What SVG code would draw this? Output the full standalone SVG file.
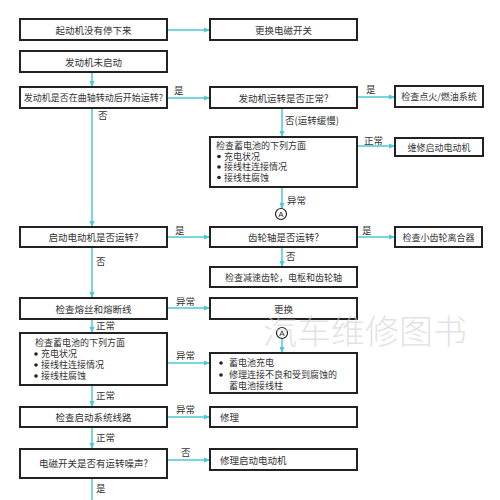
<svg xmlns="http://www.w3.org/2000/svg" width="500" height="500" viewBox="0 0 500 500">
<defs>
<marker id="ah" markerWidth="6" markerHeight="6" refX="5" refY="3" orient="auto" markerUnits="userSpaceOnUse">
<path d="M0,0.5 L6,3 L0,5.5 z" fill="#4cc9d4"/>
</marker>
<style>
.b{fill:#fff;stroke:#222;stroke-width:2}
.t{font-family:"Noto Sans CJK SC","Noto Sans CJK JP",sans-serif;font-size:9.5px;fill:#333}
.s{font-size:9px}
.c{text-anchor:middle}
.l{font-family:"Noto Sans CJK SC","Noto Sans CJK JP",sans-serif;font-size:9.5px;fill:#333}
.e{fill:none;stroke:#4cc9d4;stroke-width:1.5;marker-end:url(#ah)}
.n{fill:none;stroke:#4cc9d4;stroke-width:1.5}
.a{fill:#fff;stroke:#222;stroke-width:1.2}
.at{font-family:"Liberation Sans",sans-serif;font-size:8px;fill:#222;text-anchor:middle}
.d{fill:#222}
</style>
</defs>
<rect width="500" height="500" fill="#fff"/>
<g id="connectors">
<path class="e" d="M167,30 H209"/>
<path class="e" d="M92,72 V86"/>
<path class="e" d="M167,98 H209"/>
<path class="e" d="M92,108 V226"/>
<path class="e" d="M357,97 H394"/>
<path class="e" d="M282,108 V136"/>
<path class="e" d="M357,146 H394"/>
<path class="e" d="M282,187 V208"/>
<path class="e" d="M167,237 H209"/>
<path class="e" d="M357,237 H394"/>
<path class="e" d="M282,247 V266"/>
<path class="e" d="M92,247 V297"/>
<path class="e" d="M167,308 H209"/>
<path class="e" d="M92,319 V332"/>
<path class="e" d="M282,338 V352"/>
<path class="e" d="M167,363 H209"/>
<path class="e" d="M92,385 V406"/>
<path class="e" d="M167,417 H209"/>
<path class="e" d="M92,427 V448"/>
<path class="e" d="M167,460 H209"/>
<path class="n" d="M92,478 V500"/>
</g>
<g id="labels">
<text class="l" x="174" y="94">是</text>
<text class="l" x="98" y="119">否</text>
<text class="l" x="366" y="93">是</text>
<text class="l" x="285" y="124">否(运转缓慢)</text>
<text class="l" x="364" y="144">正常</text>
<text class="l" x="287" y="204">异常</text>
<text class="l" x="175" y="234">是</text>
<text class="l" x="362" y="234">是</text>
<text class="l" x="286" y="260">否</text>
<text class="l" x="96" y="265">否</text>
<text class="l" x="176" y="305">异常</text>
<text class="l" x="96" y="329">正常</text>
<text class="l" x="176" y="359">异常</text>
<text class="l" x="96" y="399">正常</text>
<text class="l" x="176" y="413">异常</text>
<text class="l" x="96" y="441">正常</text>
<text class="l" x="181" y="456">否</text>
<text class="l" x="96" y="492">是</text>
</g>
<g id="n1"><rect class="b" x="20" y="19" width="147" height="21"/><text class="t c" x="93.5" y="33.5">起动机没有停下来</text></g>
<g id="n2"><rect class="b" x="210" y="19" width="147" height="21"/><text class="t c" x="283.5" y="33.5">更换电磁开关</text></g>
<g id="n3"><rect class="b" x="20" y="51" width="147" height="21"/><text class="t c" x="93.5" y="65.5">发动机未启动</text></g>
<g id="n4"><rect class="b" x="20" y="87" width="147" height="21"/><text class="t s c" x="93.5" y="101">发动机是否在曲轴转动后开始运转?</text></g>
<g id="n5"><rect class="b" x="210" y="87" width="147" height="21"/><text class="t c" x="283.5" y="101.5">发动机运转是否正常?</text></g>
<g id="n6"><rect class="b" x="395" y="86" width="88" height="21"/><text class="t s c" x="439" y="100">检查点火/燃油系统</text></g>
<g id="n7"><rect class="b" x="210" y="137" width="147" height="50"/>
<text class="t s" x="216" y="149">检查蓄电池的下列方面</text>
<circle class="d" cx="219" cy="156.5" r="1.8"/><text class="t s" x="224" y="159.5">充电状况</text>
<circle class="d" cx="219" cy="167" r="1.8"/><text class="t s" x="224" y="170">接线柱连接情况</text>
<circle class="d" cx="219" cy="177.5" r="1.8"/><text class="t s" x="224" y="180.5">接线柱腐蚀</text></g>
<g id="n8"><rect class="b" x="395" y="138" width="88" height="18"/><text class="t s c" x="439" y="150.5">维修启动电动机</text></g>
<g id="a1"><circle class="a" cx="281" cy="214" r="5.5"/><text class="at" x="281" y="217">A</text></g>
<g id="n9"><rect class="b" x="20" y="227" width="147" height="20"/><text class="t c" x="93.5" y="241">启动电动机是否运转?</text></g>
<g id="n10"><rect class="b" x="210" y="227" width="147" height="20"/><text class="t c" x="283.5" y="241">齿轮轴是否运转?</text></g>
<g id="n11"><rect class="b" x="395" y="227" width="87" height="20"/><text class="t s c" x="438.5" y="240.5">检查小齿轮离合器</text></g>
<g id="n12"><rect class="b" x="210" y="267" width="147" height="20"/><text class="t s" x="225" y="280.5">检查减速齿轮，电枢和齿轮轴</text></g>
<g id="n13"><rect class="b" x="20" y="298" width="147" height="21"/><text class="t c" x="93.5" y="312.5">检查熔丝和熔断线</text></g>
<g id="n14"><rect class="b" x="210" y="298" width="147" height="21"/><text class="t c" x="283.5" y="312.5">更换</text></g>
<g id="a2"><circle class="a" cx="282" cy="333" r="5.5"/><text class="at" x="282" y="336">A</text></g>
<g id="n15"><rect class="b" x="20" y="333" width="147" height="52"/>
<text class="t s" x="35" y="346">检查蓄电池的下列方面</text>
<circle class="d" cx="36" cy="354" r="1.8"/><text class="t s" x="41" y="357">充电状况</text>
<circle class="d" cx="36" cy="365" r="1.8"/><text class="t s" x="41" y="368">接线柱连接情况</text>
<circle class="d" cx="36" cy="376" r="1.8"/><text class="t s" x="41" y="379">接线柱腐蚀</text></g>
<g id="n16"><rect class="b" x="210" y="353" width="147" height="40"/>
<circle class="d" cx="221" cy="363" r="1.8"/><text class="t s" x="229" y="366">蓄电池充电</text>
<circle class="d" cx="221" cy="375" r="1.8"/><text class="t s" x="229" y="378">修理连接不良和受到腐蚀的</text>
<text class="t s" x="229" y="389">蓄电池接线柱</text></g>
<g id="n17"><rect class="b" x="20" y="407" width="147" height="20"/><text class="t c" x="93.5" y="421">检查启动系统线路</text></g>
<g id="n18"><rect class="b" x="210" y="407" width="147" height="20"/><text class="t" x="220" y="421">修理</text></g>
<g id="n19"><rect class="b" x="20" y="449" width="147" height="29"/><text class="t c" x="93.5" y="467">电磁开关是否有运转噪声?</text></g>
<g id="n20"><rect class="b" x="210" y="449" width="147" height="21"/><text class="t" x="220" y="463.5">修理启动电动机</text></g>
<text x="365" y="344" font-family="Noto Sans CJK SC, sans-serif" font-size="34" font-weight="300" fill="#cfcfcf" fill-opacity="0.6" text-anchor="middle">汽车维修图书</text>
</svg>
